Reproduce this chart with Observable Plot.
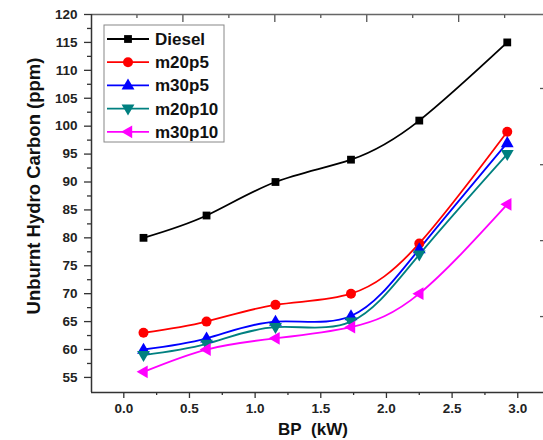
<!DOCTYPE html>
<html>
<head>
<meta charset="utf-8">
<script src="https://cdn.jsdelivr.net/npm/d3@7"></script>
<script src="https://cdn.jsdelivr.net/npm/@observablehq/plot@0.6"></script>
<style>
  html, body { margin: 0; padding: 0; background: #fff; }
  #chart { width: 543px; height: 440px; }
</style>
</head>
<body>
<div id="chart"></div>
<script>
// ---- data ----
const bp = [0.15, 0.63, 1.155, 1.73, 2.25, 2.92];
const seriesNames = ["Diesel", "m20p5", "m30p5", "m20p10", "m30p10"];
const diesel = [80, 84, 90, 94, 101, 115];
const m20p5 = [63, 65, 68, 70, 79, 99];
const m30p5 = [60, 62, 65, 66, 78, 97];
const m20p10 = [59, 61, 64, 65, 77, 95];
const m30p10 = [56, 60, 62, 64, 70, 86];
const seriesColors = ["#000000", "#ff0000", "#0000ff", "#008080", "#ff00ff"];
const yTicks = [55, 60, 65, 70, 75, 80, 85, 90, 95, 100, 105, 110, 115, 120];
const yMinor = [57.5, 62.5, 67.5, 72.5, 77.5, 82.5, 87.5, 92.5, 97.5, 102.5, 107.5, 112.5, 117.5];
const xTicks = [0, 0.5, 1.0, 1.5, 2.0, 2.5, 3.0];
const xMinor = [0.25, 0.75, 1.25, 1.75, 2.25, 2.75];
const topMajor = [0.45, 1.15, 1.85, 2.55];
const topMinor = [0.1, 0.8, 1.5, 2.2, 2.9];
const rightTicks = [106.75, 93.1, 79.5, 65.9];
const xLabel = "BP\u00a0 (kW)";
const yLabel = "Unburnt Hydro Carbon (ppm)";

// ---- symbols ----
function triSymbol(angle) {
  return {
    draw(ctx, size) {
      const s = Math.sqrt(size) * 1.25;
      const pts = [[0, -0.62 * s], [0.58 * s, 0.38 * s], [-0.58 * s, 0.38 * s]];
      const a = angle * Math.PI / 180;
      pts.forEach(([x, y], i) => {
        const X = x * Math.cos(a) - y * Math.sin(a);
        const Y = x * Math.sin(a) + y * Math.cos(a);
        if (i === 0) ctx.moveTo(X, Y); else ctx.lineTo(X, Y);
      });
      ctx.closePath();
    }
  };
}
const seriesSymbols = ["square", "circle", triSymbol(0), triSymbol(180), triSymbol(-90)];
const seriesValues = [diesel, m20p5, m30p5, m20p10, m30p10];

const rows = [];
seriesNames.forEach((name, si) => {
  bp.forEach((x, i) => rows.push({series: name, si, x, y: seriesValues[si][i]}));
});

const axisColor = "#333";
const marks = [
  Plot.axisY(yTicks, {tickSize: 7, tickPadding: 7, label: null, fontSize: 13.5, fontWeight: "bold", stroke: axisColor, strokeWidth: 1.3}),
  Plot.axisY(yMinor, {tickSize: 4, tickFormat: () => "", label: null, stroke: axisColor, strokeWidth: 1.3}),
  Plot.axisX(xTicks, {tickSize: 6, tickPadding: 5, tickFormat: d3.format(".1f"), label: null, fontSize: 13.5, fontWeight: "bold", stroke: axisColor, strokeWidth: 1.3}),
  Plot.axisX(xMinor, {tickSize: 3, tickFormat: () => "", label: null, stroke: axisColor, strokeWidth: 1.3}),
  Plot.tickX(topMajor, {x: d => d, insetBottom: 370, stroke: "#555", strokeWidth: 1.3}),
  Plot.tickX(topMinor, {x: d => d, insetBottom: 374, stroke: "#555", strokeWidth: 1.3}),
  Plot.tickY(rightTicks, {y: d => d, insetLeft: 449, stroke: "#555", strokeWidth: 1.3}),
  Plot.ruleY([120], {stroke: "#666", strokeWidth: 1.5}),
  Plot.ruleY([52.3], {stroke: axisColor, strokeWidth: 1.5}),
  Plot.ruleX([-0.246], {stroke: axisColor, strokeWidth: 1.5})
];
seriesNames.forEach((name, si) => {
  const data = rows.filter(d => d.si === si);
  marks.push(Plot.line(data, {x: "x", y: "y", stroke: seriesColors[si], strokeWidth: 1.8, curve: "natural"}));
});
seriesNames.forEach((name, si) => {
  const data = rows.filter(d => d.si === si);
  marks.push(Plot.dot(data, {x: "x", y: "y", fill: seriesColors[si], stroke: "none", r: si === 0 ? 4.4 : 5, symbol: seriesSymbols[si]}));
});

const chart = Plot.plot({
  width: 543,
  height: 440,
  marginLeft: 91,
  marginRight: 0,
  marginTop: 14,
  marginBottom: 48,
  style: {fontFamily: "'Liberation Sans', Arial, sans-serif", fontWeight: "bold", fontSize: "13px", color: "#222", background: "#fff"},
  x: {domain: [-0.246, 3.196]},
  y: {domain: [52.3, 120]},
  marks
});
document.getElementById("chart").appendChild(chart);

// ---- axis titles & legend ----
const svg = d3.select(chart);
svg.append("text")
  .attr("x", 313).attr("y", 435)
  .attr("text-anchor", "middle")
  .style("font-size", "17px").style("font-weight", "bold").attr("fill", "#111")
  .text(xLabel);
svg.append("text")
  .attr("transform", "translate(40,186) rotate(-90)")
  .attr("text-anchor", "middle")
  .style("font-size", "18.5px").style("font-weight", "bold").attr("fill", "#111")
  .text(yLabel);

const leg = svg.append("g");
leg.append("rect").attr("x", 104).attr("y", 25).attr("width", 120).attr("height", 117)
  .attr("fill", "#fff").attr("stroke", "#888").attr("stroke-width", 1);
seriesNames.forEach((name, si) => {
  const cy = 39 + si * 23.2;
  leg.append("line").attr("x1", 107).attr("x2", 149).attr("y1", cy).attr("y2", cy)
    .attr("stroke", seriesColors[si]).attr("stroke-width", 1.8);
  const sym = seriesSymbols[si];
  const type = typeof sym === "string" ? (sym === "square" ? d3.symbolSquare : d3.symbolCircle) : sym;
  const r = si === 0 ? 4.4 : 5;
  leg.append("path").attr("transform", `translate(128,${cy})`)
    .attr("d", d3.symbol(type, Math.PI * r * r)()).attr("fill", seriesColors[si]);
  leg.append("text").attr("x", 155).attr("y", cy).attr("dy", "0.35em")
    .attr("text-anchor", "start")
    .style("font-size", "17px").style("font-weight", "bold").attr("fill", "#111")
    .text(name);
});
</script>
</body>
</html>
